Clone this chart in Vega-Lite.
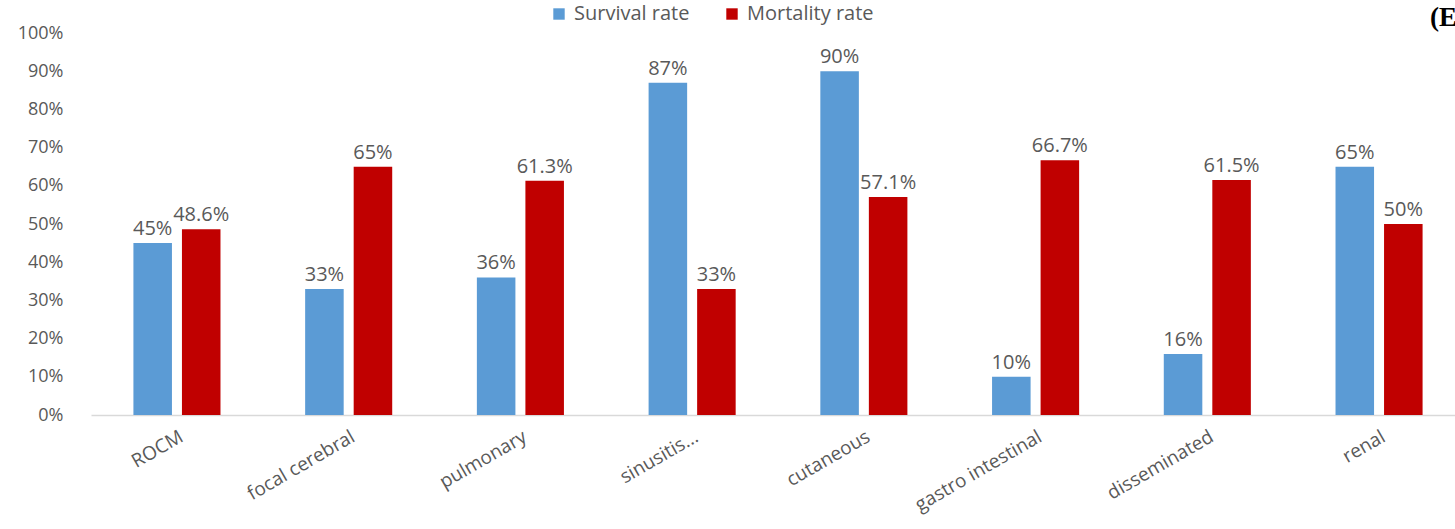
{
  "$schema": "https://vega.github.io/schema/vega-lite/v6.json",
  "autosize": "none",
  "padding": {"left": 91, "top": 33, "right": 0, "bottom": 114},
  "width": 1374,
  "height": 382,
  "background": "white",
  "view": {"stroke": null},
  "title": {
    "text": "(E",
    "anchor": "start",
    "frame": "group",
    "dx": 1339,
    "dy": 24,
    "offset": -4,
    "font": "Liberation Serif",
    "fontSize": 27,
    "fontWeight": "bold",
    "color": "black"
  },
  "data": {
    "values": [
      {"type": "ROCM", "series": "Survival rate", "value": 0.45},
      {"type": "ROCM", "series": "Mortality rate", "value": 0.486},
      {"type": "focal cerebral", "series": "Survival rate", "value": 0.33},
      {"type": "focal cerebral", "series": "Mortality rate", "value": 0.65},
      {"type": "pulmonary", "series": "Survival rate", "value": 0.36},
      {"type": "pulmonary", "series": "Mortality rate", "value": 0.613},
      {"type": "sinusitis...", "series": "Survival rate", "value": 0.87},
      {"type": "sinusitis...", "series": "Mortality rate", "value": 0.33},
      {"type": "cutaneous", "series": "Survival rate", "value": 0.90},
      {"type": "cutaneous", "series": "Mortality rate", "value": 0.571},
      {"type": "gastro intestinal", "series": "Survival rate", "value": 0.10},
      {"type": "gastro intestinal", "series": "Mortality rate", "value": 0.667},
      {"type": "disseminated", "series": "Survival rate", "value": 0.16},
      {"type": "disseminated", "series": "Mortality rate", "value": 0.615},
      {"type": "renal", "series": "Survival rate", "value": 0.65},
      {"type": "renal", "series": "Mortality rate", "value": 0.50}
    ]
  },
  "encoding": {
    "x": {
      "field": "type",
      "type": "nominal",
      "sort": null,
      "title": null,
      "scale": {"paddingInner": 0.493, "paddingOuter": 0.247},
      "axis": {
        "labelAngle": -30,
        "labelFont": "Open Sans",
        "labelFontSize": 19,
        "labelColor": "#595959",
        "labelPadding": 12,
        "ticks": false,
        "domainColor": "#D9D9D9",
        "domainWidth": 1.5,
        "grid": false
      }
    },
    "xOffset": {
      "field": "series",
      "type": "nominal",
      "sort": ["Survival rate", "Mortality rate"],
      "scale": {"paddingInner": 0.206, "paddingOuter": 0}
    },
    "y": {
      "field": "value",
      "type": "quantitative",
      "title": null,
      "scale": {"domain": [0, 1], "nice": false},
      "axis": {
        "format": ".0%",
        "values": [0, 0.1, 0.2, 0.3, 0.4, 0.5, 0.6, 0.7, 0.8, 0.9, 1],
        "labelFont": "Open Sans",
        "labelFontSize": 18,
        "labelColor": "#595959",
        "labelPadding": 28,
        "ticks": false,
        "domain": false,
        "grid": false
      }
    }
  },
  "layer": [
    {
      "mark": {"type": "bar"},
      "encoding": {
        "color": {
          "field": "series",
          "type": "nominal",
          "sort": ["Survival rate", "Mortality rate"],
          "scale": {"domain": ["Survival rate", "Mortality rate"], "range": ["#5B9BD5", "#C00000"]},
          "legend": {
            "title": null,
            "orient": "none",
            "direction": "horizontal",
            "legendX": 458,
            "legendY": -29,
            "symbolType": "square",
            "symbolSize": 130,
            "symbolOpacity": 1,
            "labelFont": "Open Sans",
            "labelFontSize": 20,
            "labelColor": "#595959",
            "columnPadding": 32,
            "labelOffset": 5
          }
        }
      }
    },
    {
      "mark": {
        "type": "text",
        "baseline": "bottom",
        "dy": -4,
        "font": "Open Sans",
        "fontSize": 20,
        "color": "#595959"
      },
      "encoding": {
        "text": {"field": "value", "type": "quantitative", "format": ".1~%"}
      }
    }
  ]
}
